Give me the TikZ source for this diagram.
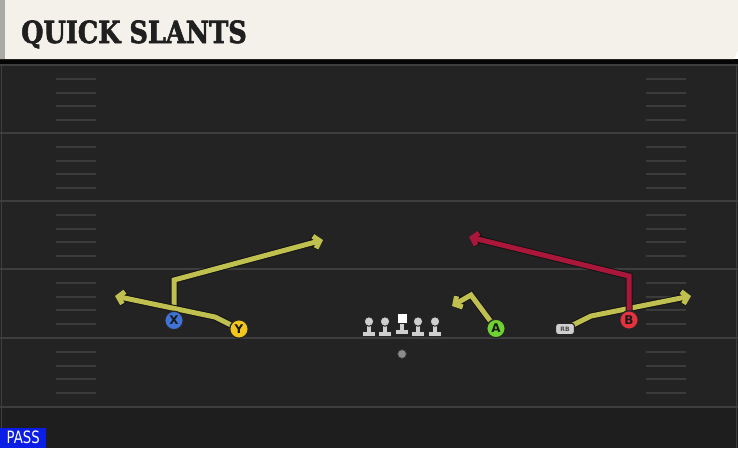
\documentclass[tikz,border=0pt]{standalone}
\usepackage{fontspec}
\setmainfont{Liberation Sans}
\newfontfamily\titlefont{DejaVu Serif}[BoldFeatures={FakeBold=2.2}]
\newfontfamily\labfont{DejaVu Sans}
\usetikzlibrary{arrows.meta}
\definecolor{fieldbg}{HTML}{232323}
\definecolor{fieldlow}{HTML}{1E1E1E}
\definecolor{yardcol}{HTML}{3E3E3E}
\definecolor{hashcol}{HTML}{3B3B3B}
\definecolor{headbg}{HTML}{F4F1EA}
\definecolor{headedge}{HTML}{A9AAA6}
\definecolor{routeY}{HTML}{BFC050}
\definecolor{routeR}{HTML}{AA173B}
\definecolor{pX}{HTML}{3F73D6}
\definecolor{pY}{HTML}{F3C61C}
\definecolor{pA}{HTML}{6ED233}
\definecolor{pB}{HTML}{E6323E}
\definecolor{linecol}{HTML}{CFCFCF}
\definecolor{passblue}{HTML}{0A1EE6}
\pgfdeclarelayer{field}
\pgfdeclarelayer{routes}
\pgfsetlayers{field,routes,main}
\tikzset{
  yard/.style={draw=yardcol, line width=2pt},
  hashmark/.style={draw=hashcol, line width=2pt},
  route/.style={line width=5pt, line join=miter, draw=#1,
    -{Straight Barb[length=5.5pt,width=12.5pt]},
    preaction={draw=black!92, line width=7pt}},
  player/.style={circle, draw=black!85, line width=1.3pt, fill=#1,
    minimum size=18.5pt, inner sep=0pt, text=black!90,
    font=\labfont\bfseries\fontsize{12}{12}\selectfont},
  rbbox/.style={rounded corners=3pt, draw=black!85, line width=1.2pt, fill=linecol,
    minimum width=19pt, minimum height=11.5pt, inner sep=0pt,
    font=\labfont\bfseries\fontsize{6}{6}\selectfont, text=black!70},
  lmbody/.style={fill=linecol, draw=black!85, line width=1pt},
}
\begin{document}
\begin{tikzpicture}[x=1pt,y=-1pt]
\useasboundingbox (0,0) rectangle (738,448);
\begin{pgfonlayer}{field}
  % field
  \fill[fieldbg] (0,59) rectangle (738,448);
  \fill[fieldlow] (0,408) rectangle (738,448);
  \fill[black!85!fieldbg] (0,59) rectangle (738,64);
  \draw[yardcol, line width=1.2pt] (1.5,64) -- (1.5,448);
  \draw[yardcol, line width=1.2pt] (736.5,64) -- (736.5,448);
  \foreach \yy in {65,133,201,269,338,407} {
    \draw[yard] (0,\yy) -- (738,\yy);
  }
  \foreach \yy in {65,133,201,269,338} {
    \foreach \dd in {14,28,41,55} {
      \draw[hashmark] (56,\yy+\dd) -- (96,\yy+\dd);
      \draw[hashmark] (646,\yy+\dd) -- (686,\yy+\dd);
    }
  }
  % header
  \fill[headbg] (0,0) -- (738,0) -- (738,50) -- (734,59) -- (0,59) -- cycle;
  \fill[headedge] (0,0) rectangle (4.5,59);
\end{pgfonlayer}
\node[anchor=base west, inner sep=0pt, text=black!88] (title) at (21,43)
  {\titlefont\bfseries\fontsize{30.5}{30.5}\selectfont\scalebox{0.84}[1]{QUICK SLANTS}};

% route coordinates
\coordinate (xbreak) at (174,280);
\coordinate (xend) at (323,240);
\coordinate (ybreak) at (215,317);
\coordinate (yend) at (115,296);
\coordinate (abreak) at (471,295);
\coordinate (aend) at (452,306);
\coordinate (rbbreak) at (591,316);
\coordinate (rbend) at (691,296);
\coordinate (bbreak) at (629,276);
\coordinate (bend) at (469,237);

% players
\node[player=pX] (X) at (174,320.5) {X};
\node[player=pY] (Y) at (239,329) {Y};
\node[player=pA] (A) at (496,328.5) {A};
\node[player=pB] (B) at (629,320) {B};
\node[rbbox] (RB) at (565,329) {RB};

% offensive line
\foreach \nm/\xx in {LT/369,LG/385,RG/418,RT/435} {
  \filldraw[lmbody]
    (\xx-6.5,336.5) -- (\xx+6.5,336.5) -- (\xx+6.5,331) -- (\xx+2.5,331) -- (\xx+2.5,324)
    -- (\xx-2.5,324) -- (\xx-2.5,331) -- (\xx-6.5,331) -- cycle;
  \node[circle, fill=linecol, draw=black!85, line width=1pt, minimum size=9.5pt,
    inner sep=0pt] (\nm) at (\xx,321.5) {};
}
\filldraw[lmbody]
  (395.5,334.5) -- (408.5,334.5) -- (408.5,329) -- (404.5,329) -- (404.5,322)
  -- (399.5,322) -- (399.5,329) -- (395.5,329) -- cycle;
\node[rectangle, fill=white, draw=black!85, line width=1pt, minimum size=10pt,
  inner sep=0pt] (C) at (402,318.5) {};
\node[circle, fill=black!45, draw=black!80, line width=0.8pt, minimum size=9pt,
  inner sep=0pt] (QB) at (402,354) {};

% routes
\begin{pgfonlayer}{routes}
  \draw[route=routeY] (X.center) -- (xbreak) -- (xend);
  \draw[route=routeY] (Y.center) -- (ybreak) -- (yend);
  \draw[route=routeY] (A.center) -- (abreak) -- (aend);
  \draw[route=routeY] (RB.center) -- (rbbreak) -- (rbend);
  \draw[route=routeR] (B.center) -- (bbreak) -- (bend);
\end{pgfonlayer}

% pass tag
\node[fill=passblue, text=white, anchor=south west, minimum width=46pt,
  minimum height=20pt, inner sep=0pt, font=\labfont\fontsize{17}{17}\selectfont]
  (pass) at (0,448) {\raisebox{-0.5pt}{\scalebox{0.78}[1]{PASS}}};
\end{tikzpicture}
\end{document}
